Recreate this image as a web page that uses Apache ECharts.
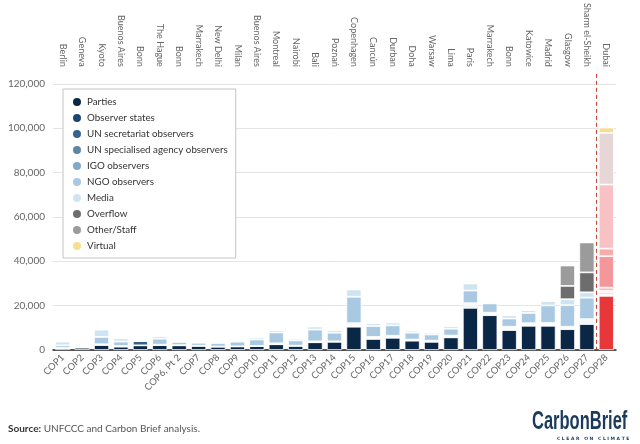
<!DOCTYPE html>
<html>
<head>
<meta charset="utf-8">
<script src="https://cdn.jsdelivr.net/npm/echarts@6/dist/echarts.min.js"></script>
<style>
html,body{margin:0;padding:0;background:#fff;}
#c{width:640px;height:444px;}
</style>
</head>
<body>
<div id="c"></div>
<script>
// ---------- DATA ----------
const categories = ['COP1','COP2','COP3','COP4','COP5','COP6','COP6, Pt 2','COP7','COP8','COP9','COP10','COP11','COP12','COP13','COP14','COP15','COP16','COP17','COP18','COP19','COP20','COP21','COP22','COP23','COP24','COP25','COP26','COP27','COP28'];
const cities = ['Berlin','Geneva','Kyoto','Buenos Aires','Bonn','The Hague','Bonn','Marrakech','New Delhi','Milan','Buenos Aires','Montreal','Nairobi','Bali','Poznań','Copenhagen','Cancún','Durban','Doha','Warsaw','Lima','Paris','Marrakech','Bonn','Katowice','Madrid','Glasgow','Sharm el-Sheikh','Dubai'];

const parties        = [900,1100,2300,1500,2100,2200,2100,1900,1500,1600,1800,2600,1900,3500,3700,10500,5000,5500,4200,3700,5700,19000,15700,9000,10900,10900,9400,11700,24400];
const observerStates = [0,0,100,100,0,100,100,50,50,50,50,100,50,100,100,300,200,200,150,150,200,500,300,300,300,300,300,500,700];
const unSecretariat  = [0,0,0,0,1900,0,0,0,0,0,0,100,0,100,100,400,200,200,100,100,200,600,300,500,300,300,300,600,800];
const unSpecialised  = [0,0,0,0,0,0,0,0,0,0,0,0,0,0,0,300,100,100,50,50,100,400,200,300,200,200,200,500,700];
const igo            = [0,0,200,200,0,100,0,0,0,0,0,200,0,200,0,600,400,400,200,200,300,600,300,400,400,500,300,600,1500];
const ngo            = [1200,200,3300,2000,200,2700,1400,1300,1600,2100,2900,4900,2400,5300,3900,11900,4900,4700,3100,2800,3100,5700,4200,3700,4600,7900,9700,9700,14200];
const media          = [1700,0,3300,1500,0,1200,600,450,550,750,950,1200,850,1400,1300,3300,1300,1300,950,850,1300,3200,700,1500,1300,2000,2700,2400,3400];
const overflow       = [0,0,0,0,0,0,0,0,0,0,0,0,0,0,0,0,0,0,0,0,0,0,0,0,0,0,6000,9000,28900];
const otherStaff     = [0,0,200,200,0,0,0,0,0,0,0,0,0,0,0,0,0,0,0,0,0,0,0,0,0,0,9200,13500,23300];
const virtual        = [0,0,0,0,0,0,0,0,0,0,0,0,0,0,0,0,0,0,0,0,0,0,0,0,0,0,0,0,2400];

const yTicks = [0,20000,40000,60000,80000,100000,120000];

// ---------- STYLE ----------
const seriesDefs = [
  ['Parties', parties, '#0b2746', '#e8373a'],
  ['Observer states', observerStates, '#1a4670', '#f2b0b0'],
  ['UN secretariat observers', unSecretariat, '#36638b', '#ee9a9d'],
  ['UN specialised agency observers', unSpecialised, '#5b87a6', '#f2a9aa'],
  ['IGO observers', igo, '#83a9c8', '#f5bcbd'],
  ['NGO observers', ngo, '#a9c9e2', '#f4979b'],
  ['Media', media, '#cfe4f1', '#f6abad'],
  ['Overflow', overflow, '#6d6d6d', '#f8c1c4'],
  ['Other/Staff', otherStaff, '#9b9b9b', '#e6d6d6'],
  ['Virtual', virtual, '#f7de93', '#f6dd8f']
];
const highlightIndex = categories.length - 1;
const FONT = 'Lato, "Open Sans", sans-serif';

const series = seriesDefs.map(function (d) {
  return {
    name: d[0],
    type: 'bar',
    stack: 'total',
    barWidth: '78%',
    itemStyle: { color: d[2], borderColor: '#ffffff', borderWidth: 0.8 },
    emphasis: { disabled: true },
    data: d[1].map(function (v, i) {
      return i === highlightIndex ? { value: v, itemStyle: { color: d[3] } } : v;
    })
  };
});

const chart = echarts.init(document.getElementById('c'), null, { renderer: 'canvas' });
const baseGraphics = [
  {
    type: 'text', left: 8, top: 424,
    style: {
      text: '{b|Source:} UNFCCC and Carbon Brief analysis.',
      font: '10px ' + FONT, fill: '#555',
      rich: { b: { fontWeight: 'bold', fontSize: 10, fill: '#333', fontFamily: FONT } }
    }
  },
  {
    type: 'text', x: 532, y: 410, scaleX: 0.66,
    style: {
      text: 'CarbonBrief',
      font: 'bold 25px "Liberation Sans", Arial, sans-serif',
      fill: '#1b3a5c'
    }
  },
  {
    type: 'text', x: 557, y: 436,
    style: {
      text: 'C L E A R   O N   C L I M A T E',
      font: 'bold 4.5px "DejaVu Sans", sans-serif',
      fill: '#1b3a5c'
    }
  }
];

chart.setOption({
  animation: false,
  backgroundColor: '#ffffff',
  textStyle: { fontFamily: FONT },
  grid: { left: 53, right: 24, top: 83, bottom: 94 },
  legend: {
    orient: 'vertical',
    left: 63, top: 89,
    backgroundColor: '#ffffff',
    borderColor: '#c4c4c4',
    borderWidth: 1,
    padding: [7, 8, 6, 8],
    itemGap: 4,
    itemWidth: 10, itemHeight: 10,
    icon: 'circle',
    textStyle: { fontSize: 9.8, color: '#333', fontFamily: FONT, lineHeight: 11 },
    data: seriesDefs.map(function (d) { return d[0]; })
  },
  xAxis: [
    {
      type: 'category',
      data: categories,
      axisLine: { lineStyle: { color: '#222', width: 1.5 } },
      axisTick: { show: false },
      axisLabel: { rotate: 45, fontSize: 9.5, color: '#666', margin: 6, interval: 0, fontFamily: FONT }
    },
    {
      type: 'category',
      position: 'top',
      data: cities,
      axisLine: { show: false },
      axisTick: { show: false },
      axisLabel: { rotate: 90, fontSize: 9, color: '#666', margin: 17, interval: 0, fontFamily: FONT }
    }
  ],
  yAxis: {
    type: 'value',
    min: yTicks[0],
    max: yTicks[yTicks.length - 1],
    interval: yTicks[1] - yTicks[0],
    axisLine: { show: false },
    axisTick: { show: false },
    axisLabel: { fontSize: 10, color: '#666', margin: 8, fontFamily: FONT },
    splitLine: { lineStyle: { color: '#e4e4e4', width: 1 } }
  },
  series: series,
  graphic: baseGraphics
});

// dashed divider between the last two categories, placed through the axis scales
const pA = chart.convertToPixel({ xAxisIndex: 0, yAxisIndex: 0 }, [categories[highlightIndex - 1], 0]);
const pB = chart.convertToPixel({ xAxisIndex: 0, yAxisIndex: 0 }, [categories[highlightIndex], 0]);
const pTop = chart.convertToPixel({ yAxisIndex: 0 }, yTicks[yTicks.length - 1]);
const xm = (pA[0] + pB[0]) / 2;
chart.setOption({
  graphic: baseGraphics.concat([{
    type: 'line', z: 10, silent: true,
    shape: { x1: xm, y1: pTop - 10, x2: xm, y2: pA[1] },
    style: { stroke: '#c0392b', lineWidth: 1, lineDash: [4, 3] }
  }])
});
</script>
</body>
</html>
